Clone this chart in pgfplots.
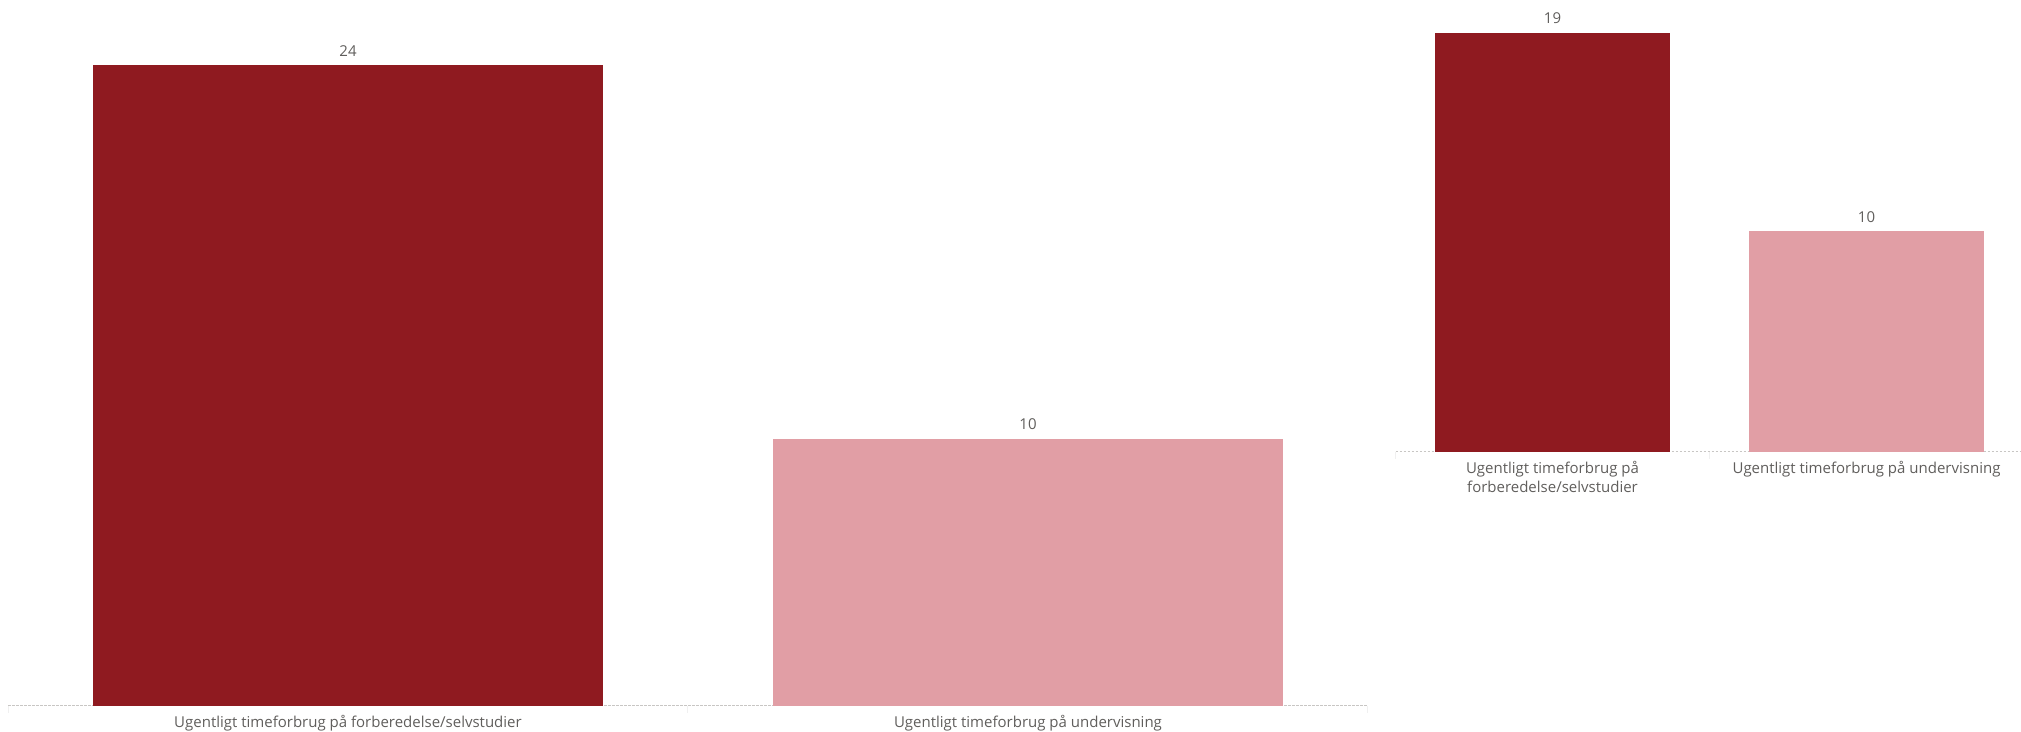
\documentclass[border=0pt]{standalone}
\usepackage{fontspec}
\setmainfont{Open Sans}
\usepackage{pgfplots}
\pgfplotsset{compat=1.18}
\definecolor{darkred}{HTML}{8F1A20}
\definecolor{pinkbar}{HTML}{E19EA5}
\definecolor{txt}{HTML}{605E5C}
\definecolor{gridc}{HTML}{C8C6C4}
\definecolor{sepc}{HTML}{F0F0F0}
\newcommand{\lblfont}{\fontsize{15bp}{19.5bp}\selectfont}
\pgfplotsset{
  pbi/.style={
    scale only axis,
    anchor=south west,
    axis line style={draw=none},
    xmin=-0.5, xmax=1.5, ymin=0,
    xtick={0,1},
    minor xtick={-0.5,0.5,1.5},
    xtick pos=bottom,
    tick align=outside,
    major tick length=0pt,
    minor tick length=7bp,
    minor x tick style={draw=sepc, line width=1bp},
    ytick={0}, yticklabels={},
    ytick pos=left,
    ymajorgrids,
    major grid style={draw=gridc, line width=1bp, dash pattern=on 2.5bp off 1.5bp},
    /pgf/number format/assume math mode=true,
    xticklabel style={font=\lblfont, text=txt, anchor=north, inner sep=0pt, yshift=-9bp, align=center},
    nodes near coords,
    every node near coord/.append style={font=\lblfont, text=txt, inner sep=0pt, anchor=south, yshift=8.5bp},
  },
  pbibar/.style={ybar, bar shift=0pt, bar width=0.75, draw=none, fill=#1},
}
\begin{document}
\begin{tikzpicture}
\useasboundingbox (0,0) rectangle (2021bp,732bp);
\begin{axis}[pbi, at={(8bp,26.3bp)}, width=1360bp, height=705.7bp, ymax=26.43,
  xticklabels={Ugentligt timeforbrug på forberedelse/selvstudier, Ugentligt timeforbrug på undervisning}]
  \addplot[pbibar=darkred] coordinates {(0,24)};
  \addplot[pbibar=pinkbar] coordinates {(1,10)};
\end{axis}
\begin{axis}[pbi, at={(1395.5bp,280.3bp)}, width=628bp, height=451.7bp, ymax=20.49,
  xticklabels={{Ugentligt timeforbrug på\\forberedelse/selvstudier}, Ugentligt timeforbrug på undervisning}]
  \addplot[pbibar=darkred] coordinates {(0,19)};
  \addplot[pbibar=pinkbar] coordinates {(1,10)};
\end{axis}
\end{tikzpicture}
\end{document}
